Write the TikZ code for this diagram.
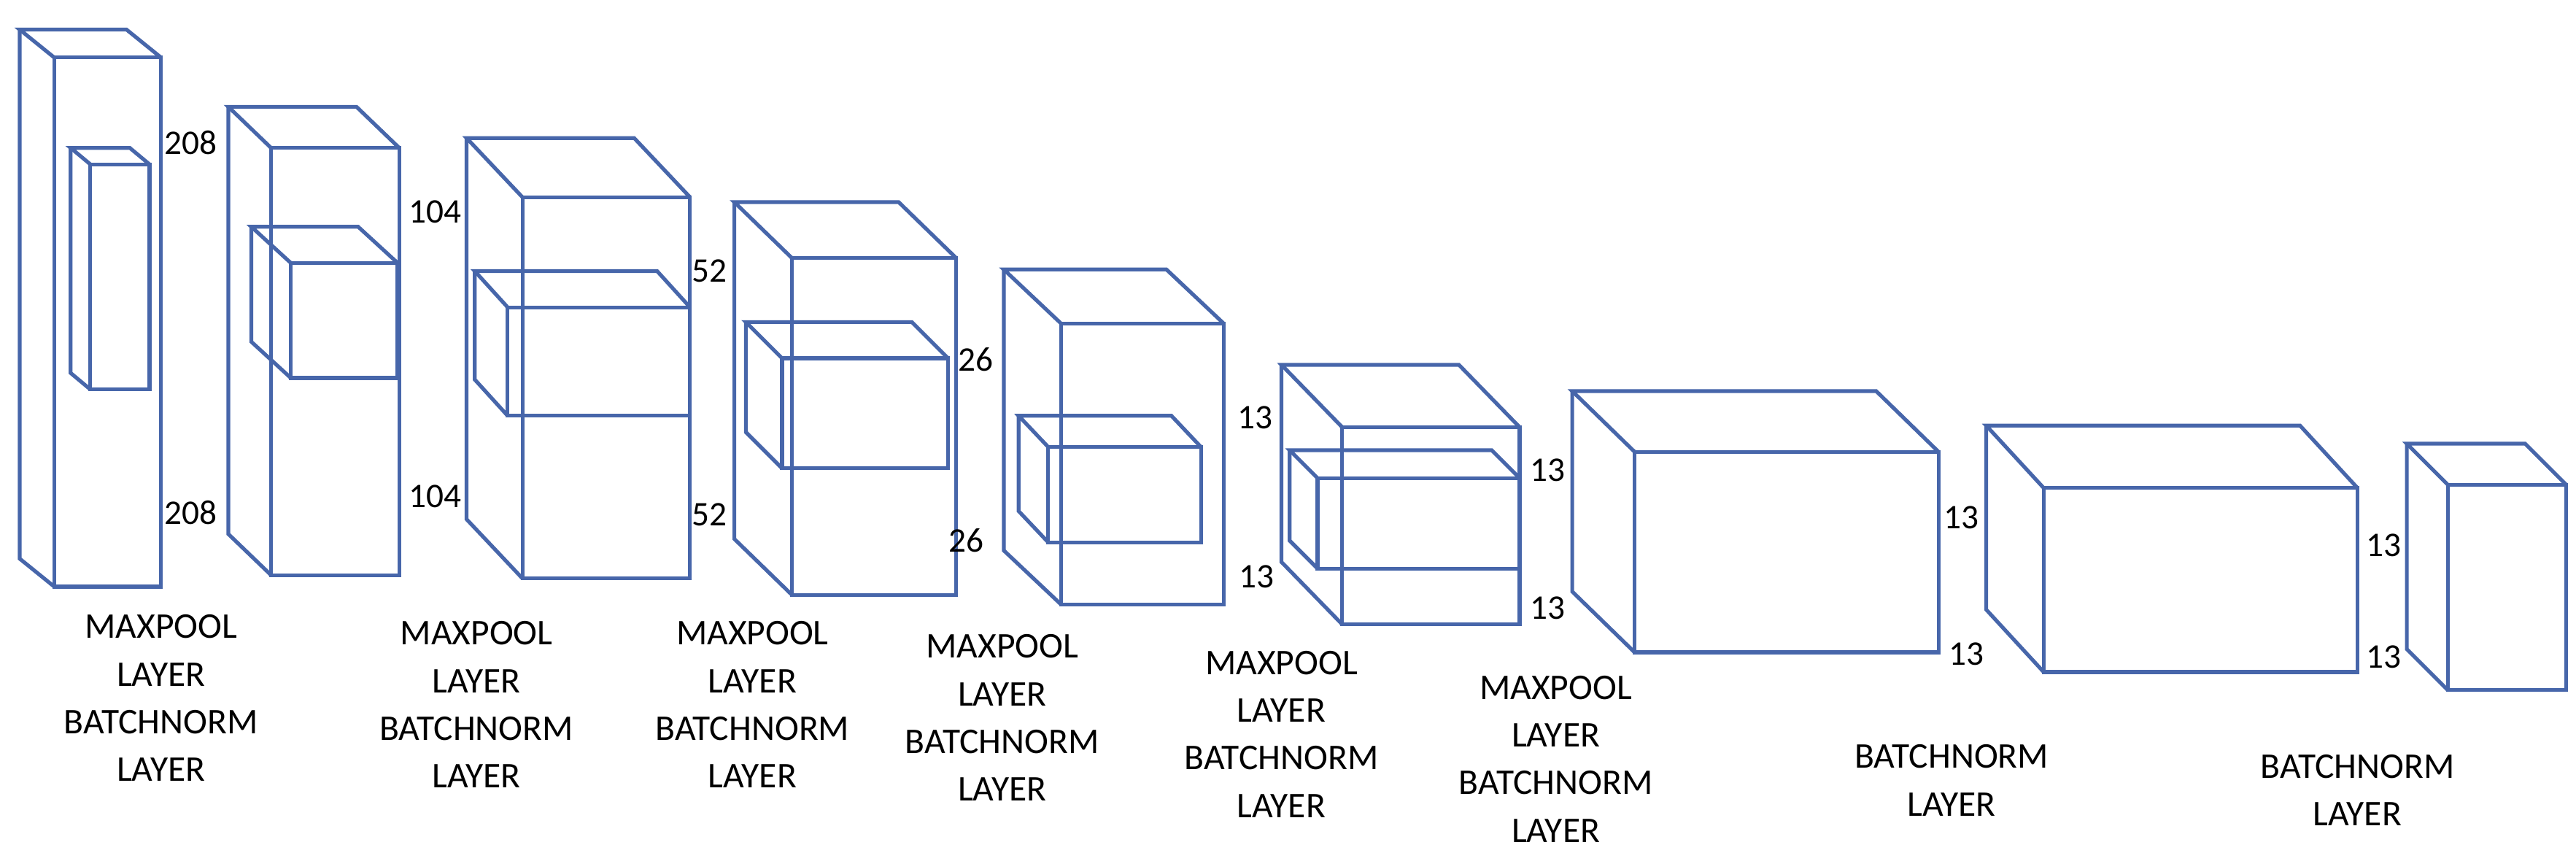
\documentclass[tikz,border=0pt]{standalone}
\usepackage{fontspec}
\setmainfont{Carlito}
\definecolor{bc}{HTML}{4766AA}
\newcommand\mycube[6]{%
 \draw[cb] (#1,#3) rectangle (#2,#4);
 \draw[cb] (#1,#3) -- ({#1+#5},{#3+#6}) -- ({#2+#5},{#3+#6}) -- (#2,#3);
 \draw[cb] ({#1+#5},{#3+#6}) -- ({#1+#5},{#4+#6}) -- (#1,#4);
}
\begin{document}
\begin{tikzpicture}[x=1pt,y=-1pt,cb/.style={draw=bc,line width=2.3pt,line join=miter},
 dim/.style={font=\fontsize{21}{24}\selectfont,inner sep=0pt},
 lab/.style={font=\fontsize{22}{29}\selectfont,align=center,anchor=north,inner sep=0pt}]
\useasboundingbox (0,0) rectangle (1568,519);
\mycube{33}{98}{35}{357}{-21}{-17}
\mycube{55}{91}{100}{237}{-12}{-10}
\mycube{165}{243}{90}{350}{-26}{-25}
\mycube{177}{242}{160}{230}{-24}{-22}
\mycube{318}{420}{120}{352}{-34}{-36}
\mycube{309}{420}{187}{253}{-20}{-22}
\mycube{482}{582}{157}{362}{-35}{-34}
\mycube{476}{577}{218}{285}{-22}{-22}
\mycube{646}{745}{197}{368}{-35}{-33}
\mycube{638}{731}{272}{330}{-18}{-19}
\mycube{817}{925}{260}{380}{-37}{-38}
\mycube{802}{925}{291}{346}{-17}{-17}
\mycube{995}{1180}{275}{397}{-38}{-37}
\mycube{1244}{1435}{297}{409}{-35}{-38}
\mycube{1490}{1562}{295}{420}{-25}{-25}
\node[dim] (d1) at (116,87) {208};
\node[dim] (d2) at (116,312) {208};
\node[dim] (d3) at (265,129) {104};
\node[dim] (d4) at (265,302) {104};
\node[dim] (d5) at (432,165) {52};
\node[dim] (d6) at (432,313) {52};
\node[dim] (d7) at (594,219) {26};
\node[dim] (d8) at (588,329) {26};
\node[dim] (d9) at (764,254) {13};
\node[dim] (d10) at (765,351) {13};
\node[dim] (d11) at (942,286) {13};
\node[dim] (d12) at (942,370) {13};
\node[dim] (d13) at (1194,315) {13};
\node[dim] (d14) at (1197,398) {13};
\node[dim] (d15) at (1451,332) {13};
\node[dim] (d16) at (1451,400) {13};
\node[lab] (l1) at (98,374) {MAXPOOL\\LAYER\\BATCHNORM\\LAYER};
\node[lab] (l2) at (290,378) {MAXPOOL\\LAYER\\BATCHNORM\\LAYER};
\node[lab] (l3) at (458,378) {MAXPOOL\\LAYER\\BATCHNORM\\LAYER};
\node[lab] (l4) at (610,386) {MAXPOOL\\LAYER\\BATCHNORM\\LAYER};
\node[lab] (l5) at (780,396) {MAXPOOL\\LAYER\\BATCHNORM\\LAYER};
\node[lab] (l6) at (947,411) {MAXPOOL\\LAYER\\BATCHNORM\\LAYER};
\node[lab] (l7) at (1188,453) {BATCHNORM\\LAYER};
\node[lab] (l8) at (1435,459) {BATCHNORM\\LAYER};
\end{tikzpicture}
\end{document}
